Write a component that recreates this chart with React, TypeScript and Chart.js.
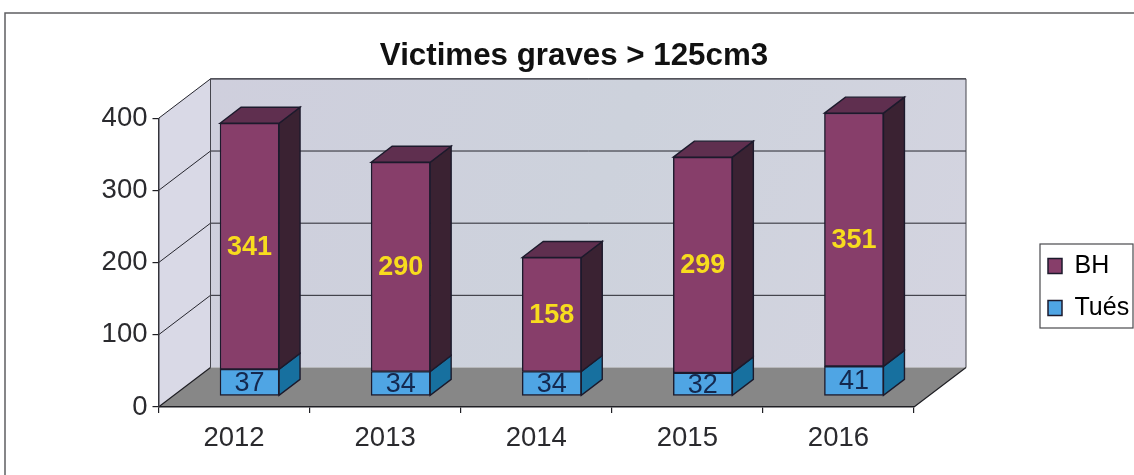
import React, { useEffect, useRef } from "react";
import { Chart, registerables } from "chart.js";

Chart.register(...registerables);

const categories = ["2012", "2013", "2014", "2015", "2016"];
const tues = [37, 34, 34, 32, 41];
const bh = [341, 290, 158, 299, 351];
const yTicks = [0, 100, 200, 300, 400];

const FONT = "'Liberation Sans', Arial, sans-serif";
const WALL_DX = 52;
const WALL_DY = -39.5;
const BAR_SHIFT_X = 15.5;
const BAR_SHIFT_Y = -11;
const BAR_DX = 21;
const BAR_DY = -16;
const EDGE = "#1c1a2c";

const poly = (ctx: CanvasRenderingContext2D, pts: number[][], fill: any, stroke?: string, lw = 1) => {
  ctx.beginPath();
  pts.forEach((p, i) => (i ? ctx.lineTo(p[0], p[1]) : ctx.moveTo(p[0], p[1])));
  ctx.closePath();
  if (fill) {
    ctx.fillStyle = fill;
    ctx.fill();
  }
  if (stroke) {
    ctx.strokeStyle = stroke;
    ctx.lineWidth = lw;
    ctx.stroke();
  }
};

const scene3d = {
  id: "scene3d",
  afterLayout(chart: any) {
    const lg = chart.legend;
    lg.left = 1031;
    lg.right = 1134;
    lg.top = 236.5;
    lg.bottom = 380;
    lg.width = 103;
    lg.height = 143.5;
    const t = chart.titleBlock;
    t.left = 7;
    t.right = 1141;
    t.top = 56 - t.height / 2;
    t.bottom = 56 + t.height / 2;
  },
  beforeDraw(chart: any) {
    const { ctx, chartArea: a, scales } = chart;
    ctx.save();
    ctx.fillStyle = "#ffffff";
    ctx.fillRect(0, 0, chart.width, chart.height);
    // Outer frame
    ctx.strokeStyle = "#5f5f62";
    ctx.lineWidth = 1.5;
    ctx.beginPath();
    ctx.moveTo(1134, 13);
    ctx.lineTo(5, 13);
    ctx.lineTo(5, 475);
    ctx.stroke();
    // Back wall, side wall and floor
    const bl = a.left + WALL_DX;
    const br = a.right + WALL_DX;
    const bt = a.top + WALL_DY;
    const bb = a.bottom + WALL_DY;
    const grad = ctx.createLinearGradient(bl, bt, br, bb);
    grad.addColorStop(0, "#cfcfdd");
    grad.addColorStop(0.5, "#cdd2dc");
    grad.addColorStop(1, "#d4d4e0");
    poly(ctx, [[bl, bt], [br, bt], [br, bb], [bl, bb]], grad);
    poly(ctx, [[a.left, a.top], [bl, bt], [bl, bb], [a.left, a.bottom]], "#d9d9e6");
    poly(ctx, [[a.left, a.bottom], [bl, bb], [br, bb], [a.right, a.bottom]], "#878787");
    // Gridlines
    ctx.strokeStyle = "#26262e";
    ctx.lineWidth = 1;
    scales.y.ticks.forEach((tick: any) => {
      if (tick.value === 0) return;
      const y = scales.y.getPixelForValue(tick.value);
      ctx.beginPath();
      ctx.moveTo(a.left, y);
      ctx.lineTo(bl, y + WALL_DY);
      ctx.lineTo(br, y + WALL_DY);
      ctx.stroke();
    });
    // Wall edges
    ctx.strokeStyle = "#45454d";
    ctx.beginPath();
    ctx.moveTo(bl, bb);
    ctx.lineTo(bl, bt);
    ctx.lineTo(br, bt);
    ctx.lineTo(br, bb);
    ctx.stroke();
    ctx.strokeStyle = "#1f1f24";
    ctx.lineWidth = 1.2;
    ctx.beginPath();
    ctx.moveTo(a.left, a.bottom);
    ctx.lineTo(bl, bb);
    ctx.moveTo(a.right, a.bottom);
    ctx.lineTo(br, bb);
    ctx.stroke();
    // Legend frame
    ctx.strokeStyle = "#4a4a4e";
    ctx.lineWidth = 1.2;
    ctx.strokeRect(1040, 244, 93, 84);
    ctx.restore();
  },
  beforeDatasetsDraw(chart: any) {
    const { ctx } = chart;
    ctx.save();
    ctx.translate(BAR_SHIFT_X, BAR_SHIFT_Y);
    const faces = [
      { side: "#17709f", top: "#17709f" },
      { side: "#3a2232", top: "#5f2f4f" },
    ];
    chart.data.datasets.forEach((_: any, di: number) => {
      chart.getDatasetMeta(di).data.forEach((bar: any) => {
        const { x, y, base, width } = bar.getProps(["x", "y", "base", "width"], true);
        const r = x + width / 2;
        const l = x - width / 2;
        poly(ctx, [[r, y], [r + BAR_DX, y + BAR_DY], [r + BAR_DX, base + BAR_DY], [r, base]], faces[di].side, EDGE, 1.4);
        if (di === chart.data.datasets.length - 1) {
          poly(ctx, [[l, y], [l + BAR_DX, y + BAR_DY], [r + BAR_DX, y + BAR_DY], [r, y]], faces[di].top, EDGE, 1.4);
        }
      });
    });
  },
  afterDatasetsDraw(chart: any) {
    const { ctx } = chart;
    ctx.textAlign = "center";
    ctx.textBaseline = "middle";
    chart.data.datasets.forEach((ds: any, di: number) => {
      chart.getDatasetMeta(di).data.forEach((bar: any, i: number) => {
        const { x, y, base } = bar.getProps(["x", "y", "base"], true);
        ctx.font = di === 0 ? `27px ${FONT}` : `bold 27px ${FONT}`;
        ctx.fillStyle = di === 0 ? "#14284e" : "#f7dc1e";
        ctx.fillText(String(ds.data[i]), x, (y + base) / 2 + 1);
      });
    });
    ctx.restore();
  },
};

export default function App() {
  const ref = useRef<HTMLCanvasElement>(null);
  useEffect(() => {
    const chart = new Chart(ref.current!, {
      type: "bar",
      data: {
        labels: categories,
        datasets: [
          { label: "Tués", data: tues, backgroundColor: "#4fa5e4", borderColor: EDGE, borderWidth: 1.4, borderSkipped: false },
          { label: "BH", data: bh, backgroundColor: "#873e6a", borderColor: EDGE, borderWidth: 1.4, borderSkipped: false },
        ],
      },
      plugins: [scene3d],
      options: {
        responsive: false,
        animation: false,
        layout: { padding: { top: 80.8, left: 0, right: 220, bottom: 6 } },
        datasets: { bar: { barThickness: 59 } },
        scales: {
          x: {
            stacked: true,
            border: { display: true, color: "#1f1f24", width: 1.5 },
            grid: { offset: true, drawOnChartArea: false, drawTicks: true, tickLength: 6, color: "#1f1f24", lineWidth: 1.2 },
            ticks: { color: "#2a2a2e", font: { family: FONT, size: 27.5 }, padding: 9, maxRotation: 0 },
            afterFit: (s: any) => {
              s.height = 62;
            },
          },
          y: {
            stacked: true,
            min: 0,
            max: 400,
            border: { display: true, color: "#33333a", width: 1.5 },
            grid: { drawOnChartArea: false, drawTicks: true, tickLength: 6, color: "#1f1f24", lineWidth: 1.2 },
            ticks: {
              color: "#2a2a2e",
              font: { family: FONT, size: 27.5 },
              padding: 5,
              stepSize: 100,
              callback: (v: any) => (yTicks.includes(v) ? String(v) : ""),
            },
            afterFit: (s: any) => {
              s.width = 158.5;
            },
          },
        },
        plugins: {
          tooltip: { enabled: false },
          title: {
            display: true,
            text: "Victimes graves > 125cm3",
            color: "#111111",
            font: { family: FONT, size: 31.3, weight: "bold" },
            padding: 0,
          },
          legend: {
            display: true,
            position: "chartArea",
            align: "start",
            reverse: true,
            labels: {
              color: "#222226",
              font: { family: FONT, size: 25 },
              boxWidth: 14,
              boxHeight: 15,
              padding: 17,
              generateLabels: (c: any) =>
                c.data.datasets.map((d: any, i: number) => ({
                  text: d.label,
                  fillStyle: d.backgroundColor,
                  strokeStyle: EDGE,
                  lineWidth: 1.5,
                  datasetIndex: i,
                  hidden: false,
                })),
            },
          },
        },
      } as any,
    });
    return () => chart.destroy();
  }, []);
  return (
    <div style={{ position: "absolute", left: 0, top: 0, width: 1134, height: 475, overflow: "hidden" }}>
      <canvas ref={ref} width={1134} height={475} style={{ display: "block" }} />
    </div>
  );
}
